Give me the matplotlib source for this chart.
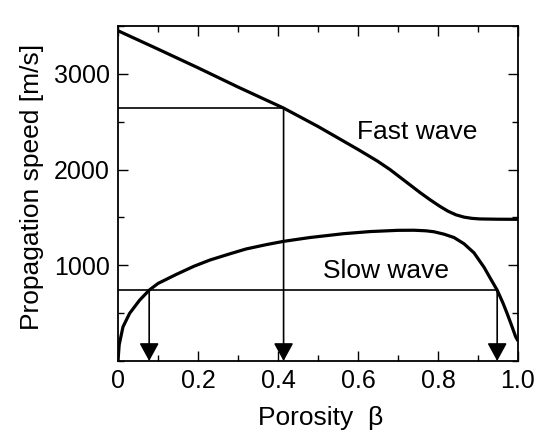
import matplotlib.pyplot as plt
from matplotlib.ticker import MultipleLocator

plt.rcParams['font.family'] = ['Liberation Sans', 'DejaVu Sans']

# fast wave
fast_beta = [0.0, 0.1, 0.2, 0.3, 0.414, 0.5, 0.55, 0.6, 0.648, 0.68, 0.705, 0.73,
             0.755, 0.78, 0.805, 0.825, 0.845, 0.865, 0.885, 0.905, 0.95, 1.0]
fast_v = [3450, 3258, 3063, 2862, 2642, 2450, 2330, 2210, 2090, 2000, 1920, 1840,
          1760, 1685, 1615, 1565, 1527, 1503, 1490, 1484, 1481, 1480]

# slow wave
slow_beta = [0.0, 0.003, 0.0125, 0.029, 0.054, 0.078, 0.1, 0.146, 0.19, 0.23, 0.28,
             0.32, 0.37, 0.414, 0.48, 0.564, 0.63, 0.70, 0.74, 0.77, 0.79, 0.815,
             0.84, 0.865, 0.89, 0.915, 0.93, 0.948, 0.962, 0.973, 0.985, 0.994, 1.0]
slow_v = [0, 170, 357, 497, 635, 740, 810, 905, 990, 1055, 1120, 1170, 1215, 1250,
          1290, 1330, 1352, 1365, 1366, 1360, 1350, 1325, 1290, 1225, 1130, 980, 870,
          740, 610, 495, 360, 255, 210]

# read-off lines (speed -> porosity)
fast_level = 2640
fast_hits = [0.414]
slow_level = 740
slow_hits = [0.078, 0.948]

xticks = [0, 0.2, 0.4, 0.6, 0.8, 1.0]
xticklabels = ['0', '0.2', '0.4', '0.6', '0.8', '1.0']
yticks = [1000, 2000, 3000]

fig = plt.figure(figsize=(5.38, 4.36), dpi=100)
ax = fig.add_axes([0.2193, 0.172, 0.7435, 0.7685])

ax.plot(fast_beta, fast_v, color='black', lw=2.3, solid_capstyle='butt', solid_joinstyle='round')
ax.plot(slow_beta, slow_v, color='black', lw=2.3, solid_capstyle='butt', solid_joinstyle='round')

# horizontal lines from the y axis to the last crossing
ax.plot([0, max(fast_hits)], [fast_level, fast_level], color='black', lw=1.2)
ax.plot([0, max(slow_hits)], [slow_level, slow_level], color='black', lw=1.2)

arrow = dict(arrowstyle='-|>,head_length=0.55,head_width=0.3', mutation_scale=20,
             color='black', lw=1.2, shrinkA=0, shrinkB=0)
for b in fast_hits:
    ax.annotate('', xy=(b, 0), xytext=(b, fast_level), arrowprops=arrow)
for b in slow_hits:
    ax.annotate('', xy=(b, 0), xytext=(b, slow_level), arrowprops=arrow)

ax.text(0.598, 2323, 'Fast wave', fontsize=19)
ax.text(0.513, 865, 'Slow wave', fontsize=19)

ax.set_xlim(0, 1.0)
ax.set_ylim(0, 3500)
ax.set_xticks(xticks)
ax.set_xticklabels(xticklabels)
ax.set_yticks(yticks)
ax.xaxis.set_minor_locator(MultipleLocator(0.1))
ax.yaxis.set_minor_locator(MultipleLocator(500))
ax.tick_params(which='both', direction='in', top=True, right=True, labelsize=18, width=1.0)
ax.tick_params(which='major', length=7, pad=6)
ax.tick_params(which='minor', length=4)
for s in ax.spines.values():
    s.set_linewidth(1.3)

ax.set_xlabel('Porosity  \u03b2', fontsize=19)
ax.set_ylabel('Propagation speed [m/s]', fontsize=19)
ax.xaxis.set_label_coords(0.507, -0.135)
ax.yaxis.set_label_coords(-0.185, 0.52)

plt.savefig('out.png', dpi=100)
plt.close()
